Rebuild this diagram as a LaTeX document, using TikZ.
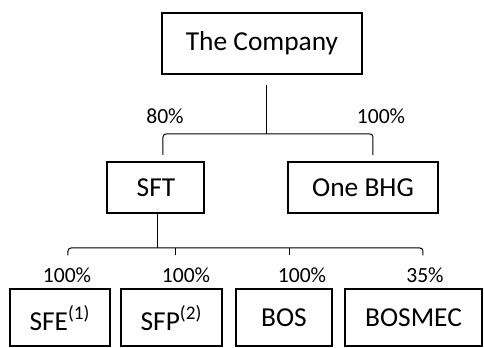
\documentclass[tikz,border=0pt]{standalone}
\usepackage{fontspec}
\setmainfont{Carlito}
\usetikzlibrary{calc}
\tikzset{
  unit/.style={draw,line width=1pt,inner sep=0pt,font=\fontsize{13.7}{16}\selectfont},
  pct/.style={inner sep=0pt,font=\fontsize{10.8}{13}\selectfont},
  link/.style={line width=0.5pt,rounded corners=1.5pt}
}
\begin{document}
\begin{tikzpicture}[x=0.5pt,y=-0.5pt]
\useasboundingbox (0,0) rectangle (484,348);
% group structure
\node[unit,minimum width=100pt,minimum height=30.5pt] (company) at (262,43.5) {The Company};
\node[unit,minimum width=48.5pt,minimum height=25.5pt] (sft) at (156,187.5) {SFT};
\node[unit,minimum width=75pt,minimum height=25.5pt] (onebhg) at (363,187.5) {One BHG};
\node[unit,minimum width=50pt,minimum height=28.5pt] (sfe) at (60,318) {SFE\textsuperscript{(1)}};
\node[unit,minimum width=50.5pt,minimum height=28.5pt] (sfp) at (171.5,318) {SFP\textsuperscript{(2)}};
\node[unit,minimum width=48pt,minimum height=28.5pt] (bos) at (284,318) {BOS};
\node[unit,minimum width=68.5pt,minimum height=28.5pt] (bosmec) at (413.5,318) {BOSMEC};
% first level
\coordinate (top) at (267,134);
\draw[link] ([xshift=2.5pt,yshift=-5pt]company.south) -- (top);
\draw[link] ([xshift=3.5pt,yshift=3pt]sft.north) |- (top) -| ([xshift=5pt,yshift=3pt]onebhg.north);
\node[pct] (p80) at (165,116) {80\%};
\node[pct] (pbhg) at (381,116) {100\%};
% second level
\coordinate (low) at (158,248);
\draw[link] ([xshift=1pt]sft.south) -- (low);
\draw[link] ([xshift=4pt,yshift=16.5pt]sfe.north) |- (low) -| ([xshift=4.75pt,yshift=16.5pt]bosmec.north);
\draw[link] ([xshift=2.25pt,yshift=16.5pt]sfp.north) -- ([xshift=2.25pt]sfp.north |- low);
\draw[link] ([xshift=3pt,yshift=16.5pt]bos.north) -- ([xshift=3pt]bos.north |- low);
\node[pct] (psfe) at (67,275) {100\%};
\node[pct] (psfp) at (186,275) {100\%};
\node[pct] (pbos) at (302,275) {100\%};
\node[pct] (pbosmec) at (425,275) {35\%};
\end{tikzpicture}
\end{document}
